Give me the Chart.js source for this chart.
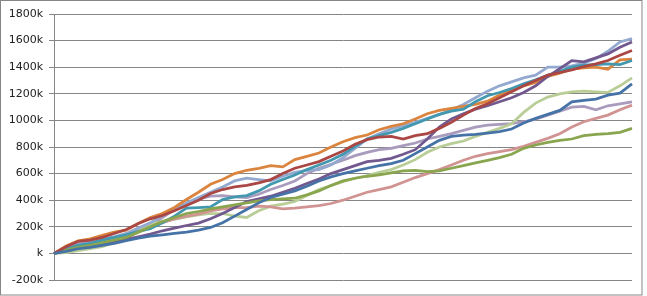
<!DOCTYPE html>
<html>
<head>
<meta charset="utf-8">
<script src="https://cdn.jsdelivr.net/npm/chart.js@4/dist/chart.umd.min.js"></script>
<style>
html,body{margin:0;padding:0;background:#fff;}
#wrap{position:relative;width:647px;height:296px;}
</style>
</head>
<body>
<div id="wrap"><canvas id="c" width="647" height="296"></canvas></div>
<script>
// values in thousands
const steps = Array.from({length: 49}, (_, i) => i);
const yTicks = [-200, 0, 200, 400, 600, 800, 1000, 1200, 1400, 1600, 1800];

const seriesBlue = [0,15,35,45,60,75,95,115,130,140,150,160,175,195,230,280,330,380,420,445,470,505,545,575,600,620,640,660,675,700,750,800,850,880,890,895,905,915,935,980,1015,1045,1075,1140,1150,1160,1190,1205,1275];
const seriesRed = [0,50,90,100,120,150,180,225,260,285,320,360,400,450,480,500,512,530,555,600,640,665,690,730,770,820,855,875,880,860,885,900,940,985,1040,1090,1125,1170,1215,1260,1300,1340,1360,1380,1405,1425,1450,1490,1525];
const seriesGreen = [0,25,45,60,80,100,120,160,200,240,270,300,315,335,350,365,380,395,405,410,415,440,470,510,545,565,580,590,605,620,625,615,620,640,660,680,700,720,745,790,815,835,850,860,885,895,900,910,940];
const seriesPurple = [0,20,40,55,70,85,105,125,145,170,190,210,228,260,300,345,390,410,430,460,490,525,560,600,630,660,690,700,715,745,780,860,950,1010,1050,1085,1110,1140,1170,1210,1260,1330,1390,1450,1440,1470,1500,1550,1590];
const seriesTeal = [0,30,60,75,100,120,140,165,185,230,280,340,345,350,405,425,435,470,520,555,590,630,665,700,745,805,860,885,910,940,975,1010,1045,1070,1085,1140,1185,1210,1240,1275,1305,1340,1370,1400,1415,1420,1425,1420,1450];
const seriesOrange = [0,55,95,110,135,160,175,225,270,300,345,405,460,520,555,600,625,640,660,650,705,730,755,800,840,870,890,930,955,975,1010,1050,1075,1090,1105,1120,1145,1190,1225,1260,1285,1330,1355,1385,1395,1400,1385,1455,1460];
const seriesLightBlue = [0,35,70,85,105,125,150,190,230,285,330,380,420,460,500,545,565,555,545,580,610,625,630,665,720,790,860,900,935,960,985,1015,1045,1080,1120,1170,1220,1260,1290,1320,1340,1400,1400,1410,1430,1465,1520,1590,1615];
const seriesPink = [0,20,40,55,75,95,120,160,195,230,260,280,295,320,335,345,345,355,350,335,340,350,360,375,400,430,460,480,500,535,570,600,630,665,700,730,750,765,780,805,835,865,900,950,990,1015,1040,1080,1115];
const seriesLightGreen = [0,5,20,35,50,80,110,165,220,240,255,275,290,300,300,280,270,320,355,370,390,435,480,510,540,565,585,610,630,665,705,760,800,825,845,880,910,940,975,1060,1130,1175,1200,1215,1220,1215,1210,1260,1320];
const seriesLightPurple = [0,15,30,55,80,105,130,165,200,270,330,375,410,430,435,425,420,445,480,510,545,600,640,670,700,735,760,780,790,810,830,860,880,900,925,950,965,970,975,990,1010,1040,1070,1100,1105,1080,1110,1125,1140];

const series = [
  {data: seriesBlue, color: '#4572A7'},
  {data: seriesRed, color: '#AA4643'},
  {data: seriesGreen, color: '#89A54E'},
  {data: seriesPurple, color: '#71588F'},
  {data: seriesTeal, color: '#4198AF'},
  {data: seriesOrange, color: '#DB843D'},
  {data: seriesLightBlue, color: '#93A9CF'},
  {data: seriesPink, color: '#D19392'},
  {data: seriesLightGreen, color: '#B9CD96'},
  {data: seriesLightPurple, color: '#A99BBD'}
];

const borderPlugin = {
  id: 'outerBorder',
  afterDraw(chart) {
    const ctx = chart.ctx;
    ctx.save();
    ctx.strokeStyle = '#868686';
    ctx.lineWidth = 1;
    ctx.strokeRect(0.5, 0.5, 641.5, 294.5);
    ctx.restore();
  }
};

new Chart(document.getElementById('c'), {
  type: 'line',
  data: {
    labels: steps,
    datasets: series.map((s, i) => ({
      label: 'S' + (i + 1),
      data: s.data,
      borderColor: s.color,
      backgroundColor: s.color,
      borderWidth: 2.75,
      pointRadius: 0,
      tension: 0,
      fill: false
    }))
  },
  options: {
    responsive: false,
    animation: false,
    layout: {padding: {left: 0, top: 14, right: 15, bottom: 16}},
    plugins: {legend: {display: false}, tooltip: {enabled: false}},
    scales: {
      x: {display: false},
      y: {
        min: -200, max: 1800,
        afterBuildTicks: (s) => { s.ticks = yTicks.map(v => ({value: v})); },
        afterFit: (s) => { s.width = 54; },
        ticks: {
          padding: 6,
          color: '#222',
          font: {family: 'DejaVu Sans', size: 11},
          callback: (v) => (v === 0 ? '' : v) + 'k'
        },
        grid: {color: '#868686', lineWidth: 1, tickLength: 5, drawTicks: true},
        border: {display: true, color: '#868686', width: 1}
      }
    }
  },
  plugins: [borderPlugin]
});
</script>
</body>
</html>
